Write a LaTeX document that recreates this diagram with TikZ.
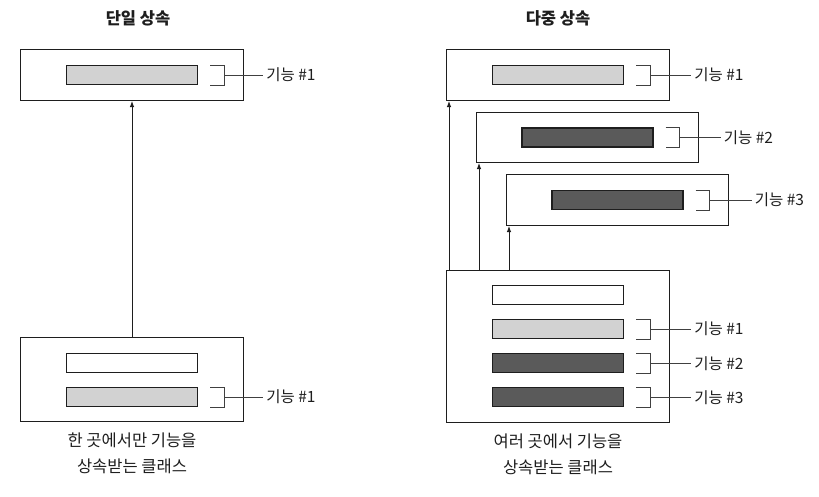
\documentclass[tikz,border=0pt]{standalone}
\usepackage{fontspec}
\setmainfont{Noto Sans CJK KR}
\usepackage{xcolor}
\usepackage{tikz}
\usetikzlibrary{arrows.meta,positioning}
\definecolor{featlight}{HTML}{D2D2D2}
\definecolor{featdark}{HTML}{5A5A5A}
\definecolor{inkgray}{HTML}{1E1E1E}
\tikzset{
  classbox/.style={rectangle,draw=inkgray,line width=1pt,fill=white,inner sep=0pt,anchor=north west},
  featbar/.style={rectangle,draw=inkgray,line width=1.3pt,fill=#1,minimum width=131pt,minimum height=19pt,inner sep=0pt},
  featbar/.default=white,
  featlabel/.style={inner sep=3pt,font=\fontsize{15.5}{17}\selectfont,text=inkgray},
  title/.style={font=\fontsize{16.5}{18}\selectfont\bfseries,text=inkgray},
  caption/.style={align=center,inner sep=0pt,font=\fontsize{16.5}{26}\selectfont,text=inkgray},
  arrow/.style={-{Latex[length=6pt,width=4.5pt]},line width=0.9pt,draw=inkgray},
  leader/.style={line width=0.8pt,draw=inkgray!85}
}
% bracket beside a feature bar, with a leader to its label
\newcommand{\featbracket}[2]{%
  \draw[leader] ([shift={(12pt,10pt)}]#1.east) -| ([xshift=26pt]#1.east) |- ([shift={(12pt,-10pt)}]#1.east);
  \draw[leader] ([xshift=26pt]#1.east) -- (#2.west);}

\begin{document}
\begin{tikzpicture}[x=1pt,y=-1pt,node distance=13.8pt]
\useasboundingbox (0,0) rectangle (819,496);

% single inheritance
\node[title] (stitle) at (138,18) {단일 상속};
\node[classbox,minimum width=223pt,minimum height=51pt] (sbase) at (20,49) {};
\node[featbar=featlight] (sbbar) at (sbase.center) {};
\node[featlabel,right=65pt of sbbar] (sblabel) {기능 \#1};
\featbracket{sbbar}{sblabel}

\node[classbox,minimum width=223pt,minimum height=84pt] (sderived) at (20,337) {};
\node[featbar] (sdown) at ([yshift=-26pt]sderived.north) {};
\node[featbar=featlight,below=of sdown] (sdf1) {};
\node[featlabel,right=65pt of sdf1] (sdlabel) {기능 \#1};
\featbracket{sdf1}{sdlabel}
\node[caption,below=11pt of sderived] (scaption) {한 곳에서만 기능을\\상속받는 클래스};

\draw[arrow] (sderived.north) -- (sbase.south);

% multiple inheritance
\node[title] (mtitle) at (558,18) {다중 상속};
\node[classbox,minimum width=223pt,minimum height=51pt] (mbase1) at (446,49) {};
\node[featbar=featlight] (mb1bar) at (mbase1.center) {};
\node[featlabel,right=67pt of mb1bar] (mb1label) {기능 \#1};
\featbracket{mb1bar}{mb1label}

\node[classbox,minimum width=222pt,minimum height=50pt] (mbase2) at (476,112) {};
\node[featbar=featdark] (mb2bar) at (mbase2.center) {};
\node[featlabel,right=67pt of mb2bar] (mb2label) {기능 \#2};
\featbracket{mb2bar}{mb2label}

\node[classbox,minimum width=222pt,minimum height=51pt] (mbase3) at (506,174) {};
\node[featbar=featdark] (mb3bar) at (mbase3.center) {};
\node[featlabel,right=68pt of mb3bar] (mb3label) {기능 \#3};
\featbracket{mb3bar}{mb3label}

\node[classbox,minimum width=223pt,minimum height=152pt] (mderived) at (446,270) {};
\node[featbar] (mdown) at ([yshift=-25pt]mderived.north) {};
\node[featbar=featlight,below=of mdown] (mdf1) {};
\node[featbar=featdark,below=of mdf1] (mdf2) {};
\node[featbar=featdark,below=of mdf2] (mdf3) {};
\node[featlabel,right=67pt of mdf1] (mdlabel1) {기능 \#1};
\node[featlabel,right=67pt of mdf2] (mdlabel2) {기능 \#2};
\node[featlabel,right=67pt of mdf3] (mdlabel3) {기능 \#3};
\featbracket{mdf1}{mdlabel1}
\featbracket{mdf2}{mdlabel2}
\featbracket{mdf3}{mdlabel3}
\node[caption,below=11pt of mderived] (mcaption) {여러 곳에서 기능을\\상속받는 클래스};

\coordinate (a1) at ([xshift=3pt]mbase1.south west);
\coordinate (a2) at ([xshift=3pt]mbase2.south west);
\coordinate (a3) at ([xshift=3pt]mbase3.south west);
\draw[arrow] (a1 |- mderived.north) -- (a1);
\draw[arrow] (a2 |- mderived.north) -- (a2);
\draw[arrow] (a3 |- mderived.north) -- (a3);
\end{tikzpicture}
\end{document}
